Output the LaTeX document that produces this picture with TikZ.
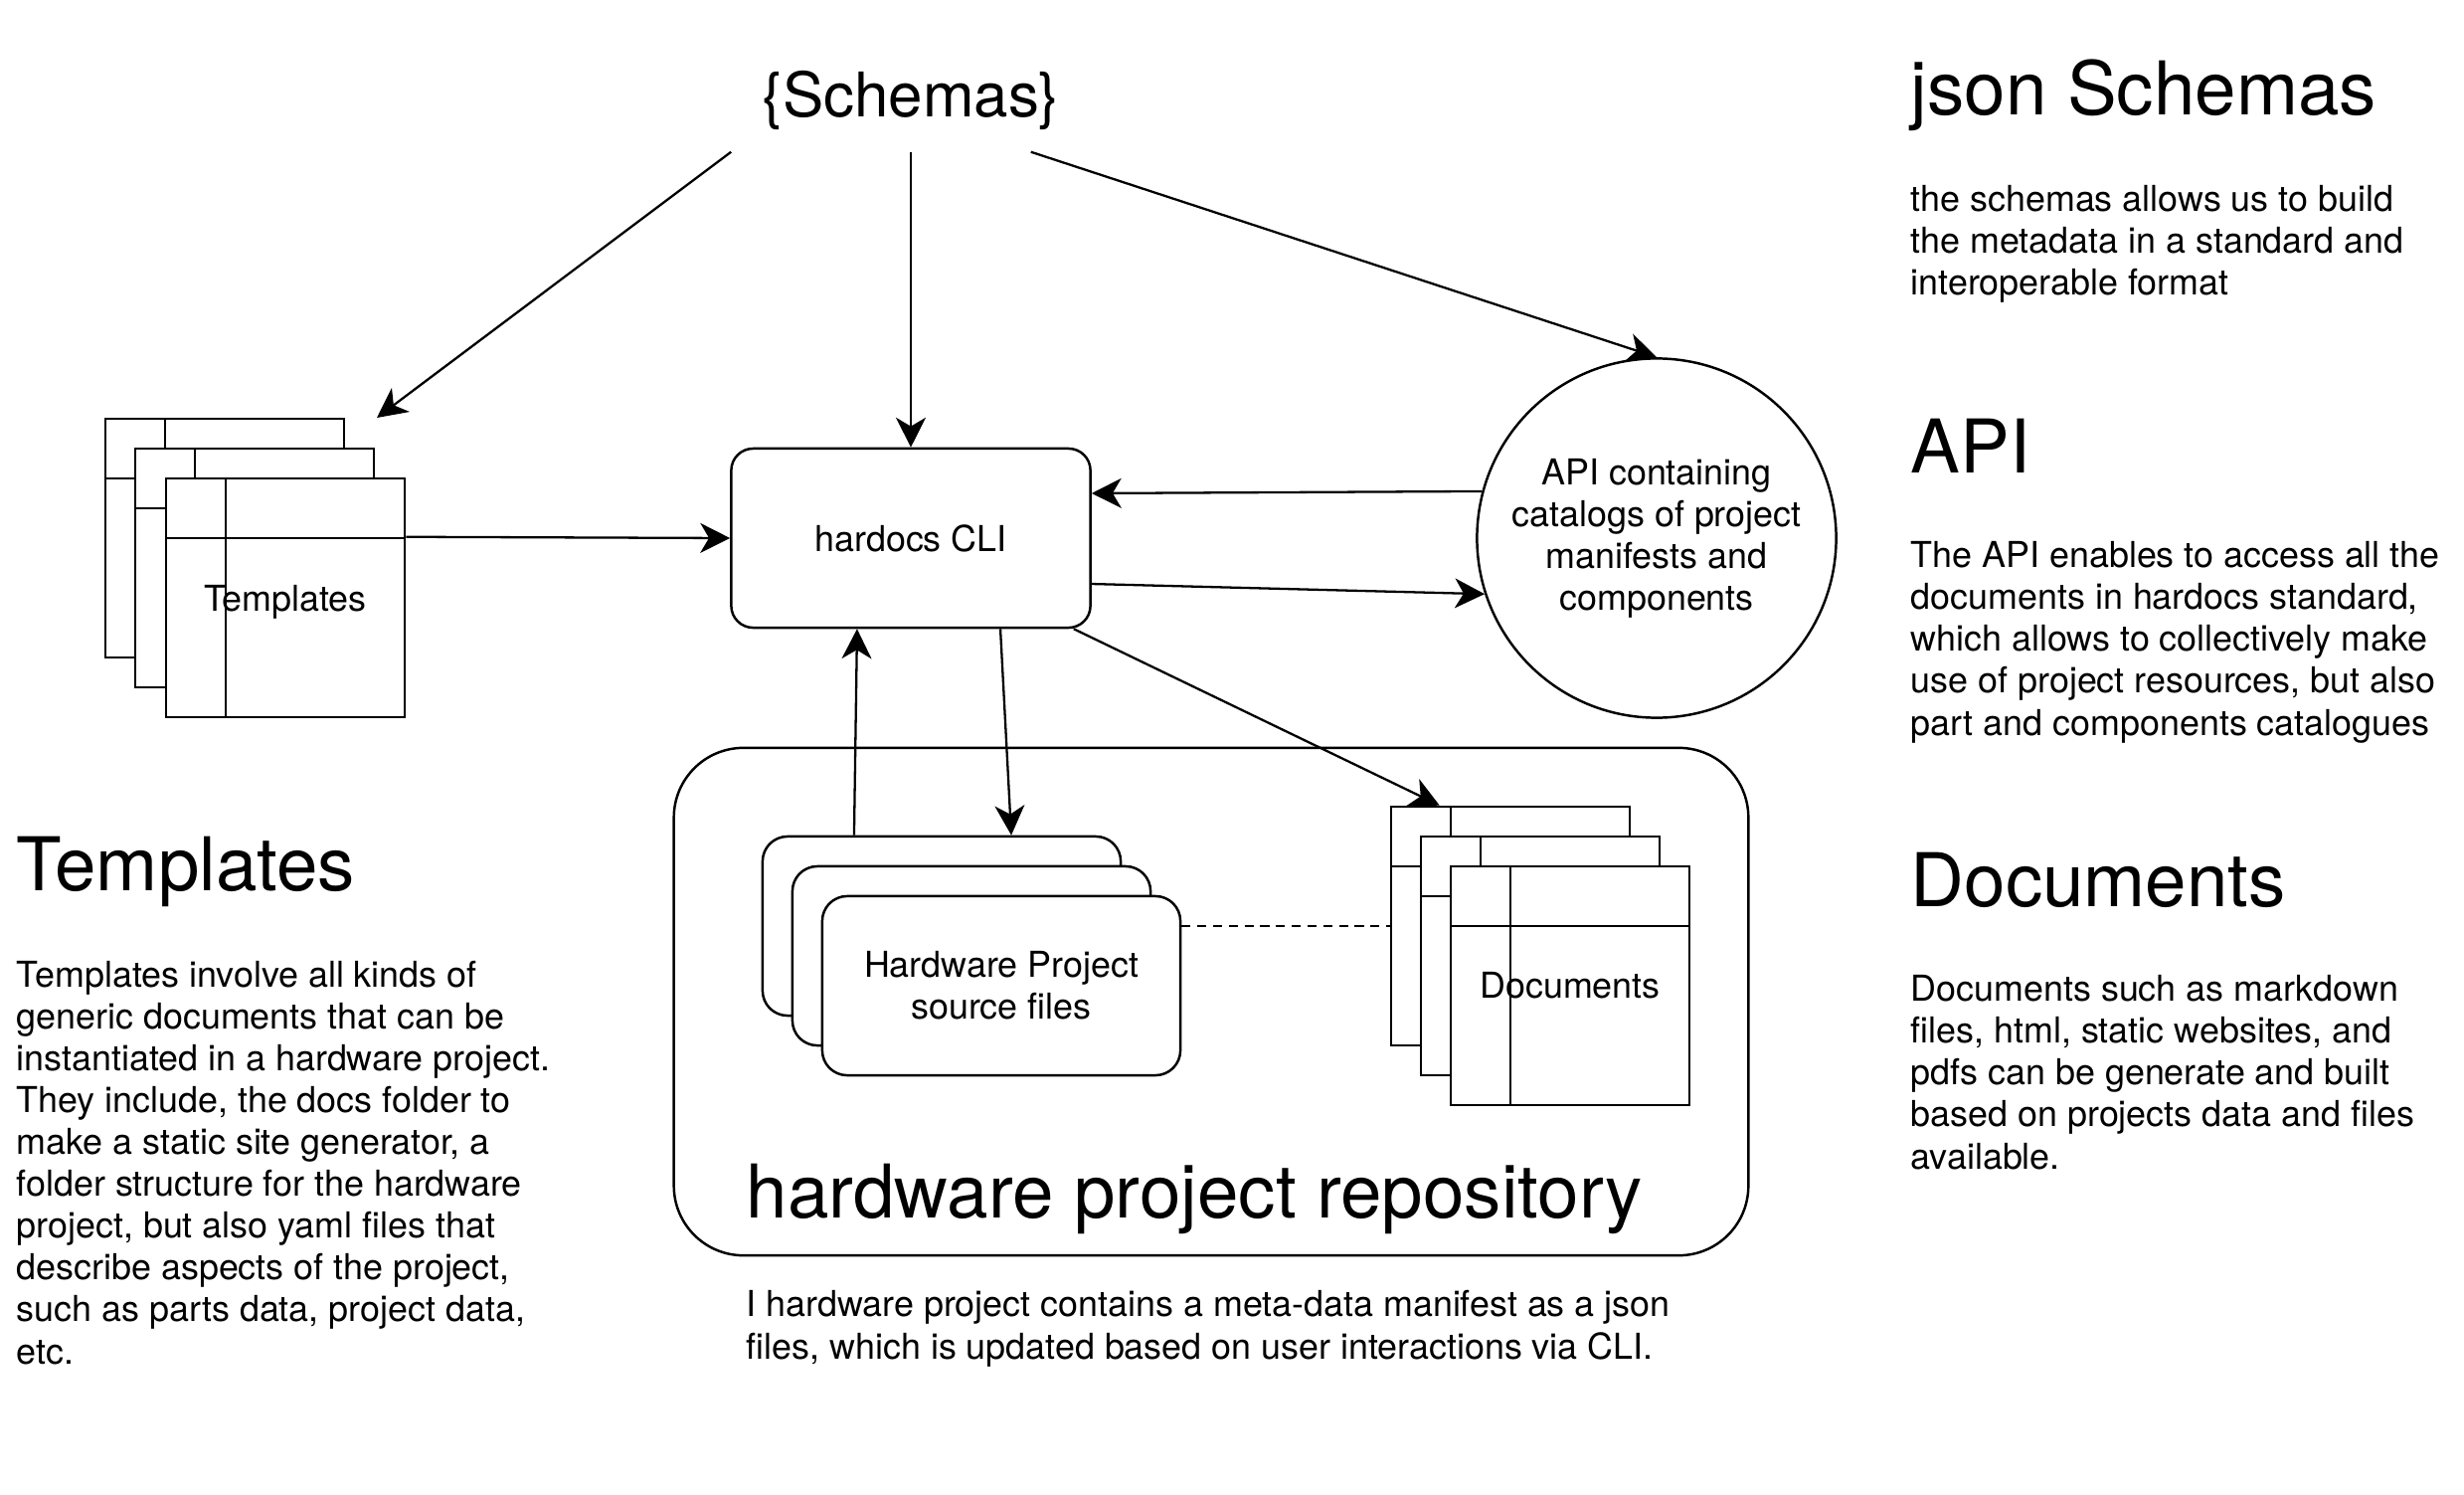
\documentclass[tikz,border=0pt]{standalone}
\usepackage{fontspec}
\setmainfont{TeX Gyre Heros}
\usetikzlibrary{arrows.meta}

\begin{document}
\begin{tikzpicture}[x=0.01cm, y=-0.01cm,
    body/.style={font=\fontsize{10.2}{11.95}\selectfont},
    txt/.style={body, align=left, inner sep=0pt, anchor=base west},
    head/.style={font=\fontsize{21.2}{25}\selectfont, inner sep=0pt, anchor=base west},
    store/.style={draw, line width=0.7pt, fill=white, minimum width=2.4cm, minimum height=2.4cm, inner sep=0pt, body,
      path picture={\draw[line width=0.7pt]
        ([xshift=6mm]path picture bounding box.north west) -- ([xshift=6mm]path picture bounding box.south west)
        ([yshift=-6mm]path picture bounding box.north west) -- ([yshift=-6mm]path picture bounding box.north east);}},
    card/.style={draw, line width=0.7pt, fill=white, rounded corners=0.25cm, minimum width=3.6cm, minimum height=1.8cm, inner sep=0pt, body, align=center},
    link/.style={-{Stealth[length=8.5pt, width=8.5pt, inset=2.5pt]}, line width=0.65pt}]
  \useasboundingbox (0,0) rectangle (2478,1503);

  \node[font=\fontsize{17.6}{20}\selectfont, minimum width=3.6cm, minimum height=1.14cm,
    text height=0.45cm, text depth=0cm, inner sep=0pt] (schemas) at (916,95) {\{Schemas\}};
  \coordinate (tmpTip) at (379,420);

  \node[store] (tmpA) at (226,541) {};
  \node[store] (tmpB) at (256,571) {};
  \node[store, text depth=-0.06cm] (tmpC) at (287,601) {Templates};

  \node[card, rounded corners=0.22cm, minimum width=3.61cm] (cli) at (916,541) {hardocs CLI};
  \node[draw, circle, line width=0.7pt, minimum size=3.61cm, inner sep=0pt, body, align=center] (api) at (1666,541)
    {API containing\\catalogs of project\\manifests and\\components};

  \node[draw, line width=0.7pt, rounded corners=0.7cm, minimum width=10.8cm, minimum height=5.1cm] (repo) at (1218,1007) {};
  \node[card] (srcA) at (947,931) {};
  \node[card] (srcB) at (977,961) {};
  \node[card] (srcC) at (1007,991) {Hardware Project\\source files};
  \node[store] (docA) at (1519,931) {};
  \node[store] (docB) at (1549,961) {};
  \node[store] (docC) at (1579,991) {Documents};

  \draw[link] (schemas.south west) -- (tmpTip);
  \draw[link] (schemas.south) -- (cli.north);
  \draw[link] ([xshift=-6mm]schemas.south east) -- (api.north);
  \draw[link] ([yshift=-6mm]tmpC.north east) -- (cli.west);
  \draw[link] (api.165) -- ([yshift=4.5mm]cli.east);
  \draw[link] ([yshift=-4.6mm]cli.east) -- (api.198);
  \draw[link] ([xshift=-8.8mm]srcA.north) -- ([xshift=-5.4mm]cli.south);
  \draw[link] ([xshift=9mm]cli.south) -- ([xshift=7mm]srcA.north);
  \draw[link] ([xshift=-1.8mm]cli.south east) -- ([xshift=5mm]docA.north west);
  \draw[line width=0.65pt, dash pattern=on 2.6pt off 1.9pt] (srcC.east |- docA.west) -- (docA.west);

  \node[head] (hdJson) at (1921,116) {json Schemas};
  \node[txt] (txJson) at (1921,297) {the schemas allows us to build\\the metadata in a standard and\\interoperable format};
  \node[head] (hdApi) at (1921,475) {API};
  \node[txt] (txApi) at (1921,739) {The API enables to access all the\\documents in hardocs standard,\\which allows to collectively make\\use of project resources, but also\\part and components catalogues};
  \node[head] (hdDoc) at (1921,911) {Documents};
  \node[txt] (txDoc) at (1921,1175) {Documents such as markdown\\files, html, static websites, and\\pdfs can be generate and built\\based on projects data and files\\available.};
  \node[head] (hdTmp) at (16,895) {Templates};
  \node[txt] (txTmp) at (16,1371) {Templates involve all kinds of\\generic documents that can be\\instantiated in a hardware project.\\They include, the docs folder to\\make a static site generator, a\\folder structure for the hardware\\project, but also yaml files that\\describe aspects of the project,\\such as parts data, project data,\\etc.};
  \node[head] (hdRepo) at (750,1224) {hardware project repository};
  \node[txt] (txRepo) at (750,1366) {I hardware project contains a meta-data manifest as a json\\files, which is updated based on user interactions via CLI.};
\end{tikzpicture}
\end{document}
